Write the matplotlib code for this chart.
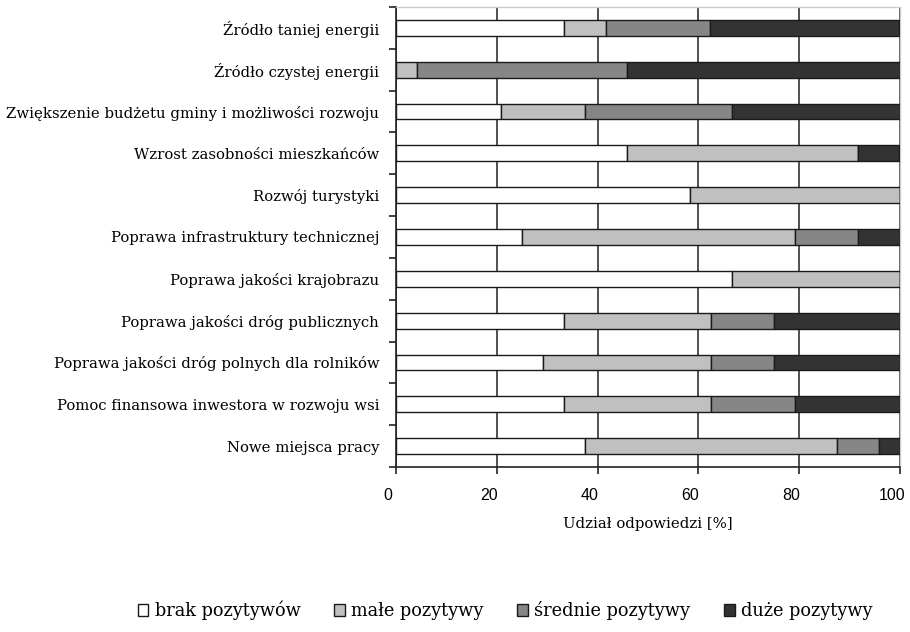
import numpy as np
import matplotlib.pyplot as plt
from matplotlib.transforms import ScaledTranslation

categories = [
    "Źródło taniej energii",
    "Źródło czystej energii",
    "Zwiększenie budżetu gminy i możliwości rozwoju",
    "Wzrost zasobności mieszkańców",
    "Rozwój turystyki",
    "Poprawa infrastruktury technicznej",
    "Poprawa jakości krajobrazu",
    "Poprawa jakości dróg publicznych",
    "Poprawa jakości dróg polnych dla rolników",
    "Pomoc finansowa inwestora w rozwoju wsi",
    "Nowe miejsca pracy",
]
brak = [33.3, 0.0, 20.8, 45.8, 58.3, 25.0, 66.7, 33.3, 29.2, 33.3, 37.5]
male = [8.3, 4.2, 16.7, 45.8, 41.7, 54.2, 33.3, 29.2, 33.3, 29.2, 50.0]
srednie = [20.8, 41.7, 29.2, 0.0, 0.0, 12.5, 0.0, 12.5, 12.5, 16.7, 8.3]
duze = [37.5, 54.2, 33.3, 8.3, 0.0, 8.3, 0.0, 25.0, 25.0, 20.8, 4.2]
series_names = ["brak pozytywów", "małe pozytywy", "średnie pozytywy", "duże pozytywy"]
colors = ["#FFFFFF", "#C0C0C0", "#868686", "#333333"]

plt.rcParams["font.family"] = ["DejaVu Serif"]
plt.rcParams["font.size"] = 10.7

fig = plt.figure(figsize=(9.1, 6.32), dpi=100)
ax = fig.add_axes([0.435, 0.261, 0.554, 0.728])

y = np.arange(len(categories))
left = np.zeros(len(categories))
handles = []
for vals, name, col in zip([brak, male, srednie, duze], series_names, colors):
    vals = np.array(vals)
    b = ax.barh(y, vals, left=left, height=0.38, color=col,
                edgecolor="#1a1a1a", linewidth=1.0, label=name, zorder=3)
    handles.append(b)
    left += vals

ax.set_xlim(0, 100)
ax.set_ylim(len(categories) - 0.5, -0.5)
ax.set_xticks([0, 20, 40, 60, 80, 100])
ax.set_xticklabels(["0", "20", "40", "60", "80", "100"],
                   fontfamily="Liberation Sans", fontsize=11.5)
ax.set_yticks(y)
ax.set_yticklabels(categories)
ax.set_yticks(np.arange(-0.5, len(categories)), minor=True)
ax.tick_params(axis="y", which="major", length=0, pad=12)
ax.tick_params(axis="y", which="minor", length=5, width=1.2, color="#222222")
ax.tick_params(axis="x", length=5, width=1.2, color="#222222", pad=10)

# Excel-style tick labels sit a little left of their ticks
shift = ScaledTranslation(-0.08, 0, fig.dpi_scale_trans)
for lab in ax.get_xticklabels():
    lab.set_transform(lab.get_transform() + shift)

ax.xaxis.grid(True, color="#333333", linewidth=1.2, zorder=0)
ax.set_axisbelow(True)
for s in ["top", "right"]:
    ax.spines[s].set_color("#cccccc")
    ax.spines[s].set_linewidth(1.0)
for s in ["left", "bottom"]:
    ax.spines[s].set_color("#222222")
    ax.spines[s].set_linewidth(1.2)

ax.set_xlabel("Udział odpowiedzi [%]", labelpad=10)

fig.legend(handles=handles, labels=series_names, loc="center",
           bbox_to_anchor=(0.555, 0.034), ncol=4, frameon=False,
           handlelength=0.6, handleheight=0.6, handletextpad=0.35,
           columnspacing=1.9, fontsize=12.8)

fig.savefig("out.png", dpi=100)
